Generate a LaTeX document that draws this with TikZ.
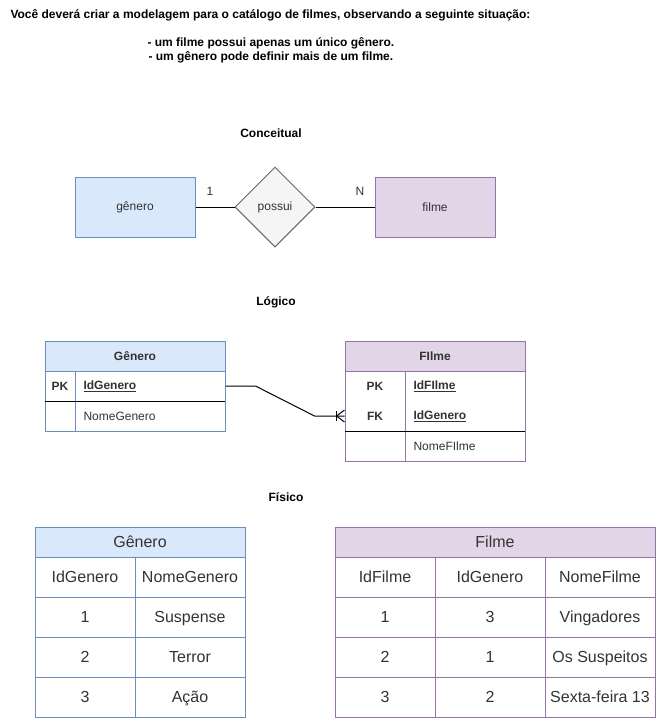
\documentclass[tikz,border=0pt]{standalone}
\usepackage{fontspec}
\setmainfont{Liberation Sans}
\usetikzlibrary{calc,positioning,shapes.geometric}

\definecolor{azulfundo}{HTML}{DAE8FC}
\definecolor{azullinha}{HTML}{6C8EBF}
\definecolor{roxofundo}{HTML}{E1D5E7}
\definecolor{roxolinha}{HTML}{9673A6}
\definecolor{cinzafundo}{HTML}{F5F5F5}
\definecolor{cinzalinha}{HTML}{666666}
\definecolor{texto}{HTML}{333333}

\begin{document}
\begin{tikzpicture}[x=1pt,y=-1pt,line width=1pt,
	every node/.style={font=\fontsize{12}{14}\selectfont, text=texto, inner sep=0pt},
	secao/.style={font=\bfseries\fontsize{12}{14}\selectfont, text=black},
	enunc/.style={anchor=west, font=\bfseries\fontsize{12}{14}\selectfont, text=black},
	entidade/.style={draw=#1linha, fill=#1fundo, minimum width=120pt, minimum height=60pt},
	relacao/.style={diamond, draw=cinzalinha, fill=cinzafundo, minimum width=80pt, minimum height=80pt},
	cabeca/.style={draw=#1linha, fill=#1fundo, minimum width=180pt, minimum height=30pt, font=\bfseries\fontsize{12}{14}\selectfont},
	chave/.style={font=\bfseries\fontsize{12}{14}\selectfont},
	celula/.style={draw=#1linha, minimum height=40pt, text height=13pt, text depth=3pt,
		font=\fontsize{16}{18}\selectfont}]

	\useasboundingbox (0,0) rectangle (656,718);

	% ---- enunciado

	\node[enunc] (enunciado) at (10,15)
		{Você deverá criar a modelagem para o catálogo de filmes, observando a seguinte situação:};
	\node[enunc] (regra1) at (147,43) {- um filme possui apenas um único gênero.};
	\node[enunc] (regra2) at (148,57) {- um gênero pode definir mais de um filme.};

	% ---- conceitual

	\node[secao] (tconc) at (271,133) {Conceitual};

	\node[entidade=azul] (genero) at (135,207) {gênero};
	\node[relacao] (possui) at (275,207) {possui};
	\node[entidade=roxo] (filme) at (435,207) {filme};

	\draw (genero) -- (possui);
	\draw (possui) -- (filme);

	\node (card1) at (210,191) {1};
	\node (cardN) at (360,191) {N};

	% ---- logico

	\node[secao] (tlog) at (276,302) {Lógico};

	% tabela genero
	\node[draw=azullinha, minimum width=180pt, minimum height=90pt] (lgen) at (135,386) {};
	\node[cabeca=azul] (lgenh) at (135,356) {Gênero};
	\draw[azullinha] (75,371) -- (75,431);
	\draw (45,401) -- (225,401);

	\node[chave] (lgpk) at (60,386) {PK};
	\node[chave, anchor=west] (lgid) at (83,386) {\underline{IdGenero}};
	\node[anchor=west] (lgnome) at (83,416) {NomeGenero};

	% tabela filme
	\node[draw=roxolinha, minimum width=180pt, minimum height=120pt] (lfil) at (435,401) {};
	\node[cabeca=roxo] (lfilh) at (435,356) {FIlme};
	\draw[roxolinha] (405,371) -- (405,461);
	\draw (345,431) -- (525,431);

	\node[chave] (lfpk) at (375,386) {PK};
	\node[chave] (lffk) at (375,416) {FK};
	\node[chave, anchor=west] (lfid) at (413,386) {\underline{IdFIlme}};
	\node[chave, anchor=west] (lfgen) at (413,416) {\underline{IdGenero}};
	\node[anchor=west] (lfnome) at (413,446) {NomeFIlme};

	% ---- ligacao

	\coordinate (orig) at (lgen.east |- lgpk);
	\coordinate (dest) at (lfil.west |- lffk);

	\draw (orig) -- ++(30,0) -- ($(dest)+(-30,0)$) -- (dest);

	% pe de galinha
	\draw ($(dest)+(-8,-5)$) -- ($(dest)+(-8,5)$);
	\draw ($(dest)+(0,-6)$) -- ($(dest)+(-8,0)$) -- ($(dest)+(0,6)$);

	% ---- fisico

	\node[secao] (tfis) at (286,497) {Físico};

	% tabela genero
	\node[celula=azul, fill=azulfundo, minimum width=210pt, minimum height=30pt] (fgenh) at (140,542) {Gênero};

	\foreach \ca/\cb [count=\r] in {IdGenero/NomeGenero, 1/Suspense, 2/Terror, 3/Ação} {
		\node[celula=azul, minimum width=100pt] (fg-\r-1) at (85,537+40*\r) {\ca};
		\node[celula=azul, minimum width=110pt] (fg-\r-2) at (190,537+40*\r) {\cb};
	}

	% tabela filme
	\node[celula=roxo, fill=roxofundo, minimum width=320pt, minimum height=30pt] (ffilh) at (495,542) {Filme};

	\foreach \ca/\cb/\cc [count=\r] in {IdFilme/IdGenero/NomeFilme, 1/3/Vingadores,
		2/1/Os Suspeitos, 3/2/Sexta-feira 13} {
		\node[celula=roxo, minimum width=100pt] (ff-\r-1) at (385,537+40*\r) {\ca};
		\node[celula=roxo, minimum width=110pt] (ff-\r-2) at (490,537+40*\r) {\cb};
		\node[celula=roxo, minimum width=110pt] (ff-\r-3) at (600,537+40*\r) {\cc};
	}

\end{tikzpicture}
\end{document}
